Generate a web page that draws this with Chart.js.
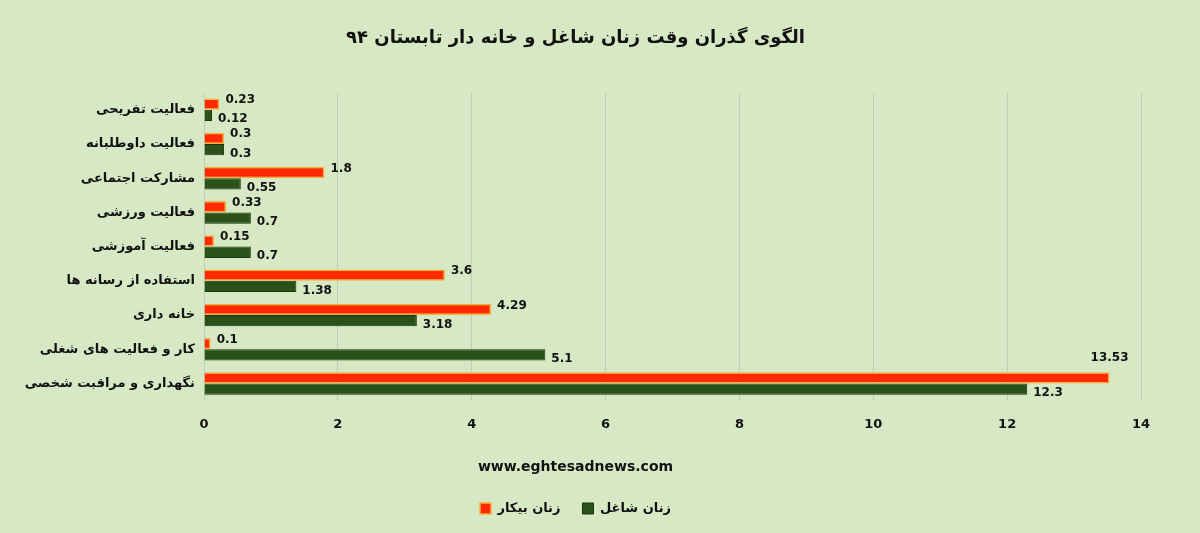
<!DOCTYPE html>
<html>
<head>
<meta charset="utf-8">
<script src="https://cdn.jsdelivr.net/npm/chart.js@4/dist/chart.umd.min.js"></script>
<style>
  html, body { margin: 0; padding: 0; background: #d6e8c4; }
  #wrap { width: 1200px; height: 533px; position: relative; }
</style>
</head>
<body>
<div id="wrap"><canvas id="grafico_zaman"></canvas></div>
<script>
// ----------------------- داده ها --------------------------------------------//

var categories = [
  'فعالیت تفریحی',
  'فعالیت داوطلبانه',
  'مشارکت اجتماعی',
  'فعالیت ورزشی',
  'فعالیت آموزشی',
  'استفاده از رسانه ها',
  'خانه داری',
  'کار و فعالیت های شغلی',
  'نگهداری و مراقبت شخصی'
];

var bikar = [0.23, 0.3, 1.8, 0.33, 0.15, 3.6, 4.29, 0.1, 13.53];   // زنان بیکار
var shaghel = [0.12, 0.3, 0.55, 0.7, 0.7, 1.38, 3.18, 5.1, 12.3];  // زنان شاغل
var xTicks = [0, 2, 4, 6, 8, 10, 12, 14];

var fonte = "'DejaVu Sans', sans-serif";

// ----------------------- برچسب مقادیر --------------------------------------------//

var rotulos = {
  id: 'rotulos',
  afterDatasetsDraw: function (chart) {
    var ctx = chart.ctx;
    ctx.save();
    ctx.font = 'bold 12px ' + fonte;
    ctx.fillStyle = '#111';
    ctx.textBaseline = 'middle';
    chart.data.datasets.forEach(function (ds, i) {
      var meta = chart.getDatasetMeta(i);
      meta.data.forEach(function (bar, j) {
        var txt = String(ds.data[j]);
        var w = ctx.measureText(txt).width;
        var dy = i === 0 ? -4 : 4;
        if (bar.x + 6 + w > chart.chartArea.right - 25) {
          // جا نیست: بالای انتهای میله
          ctx.textAlign = 'center';
          ctx.fillText(txt, bar.x, bar.y - 20);
        } else {
          ctx.textAlign = 'left';
          ctx.fillText(txt, bar.x + 6, bar.y + dy);
        }
      });
    });
    ctx.restore();
  }
};

// ----------------------- نمودار --------------------------------------------//

var data = {
  labels: categories,
  datasets: [
    {
      label: 'زنان بیکار',
      data: bikar,
      backgroundColor: '#ff2a00',
      borderColor: '#f4b13a',
      borderWidth: 1.5,
      borderSkipped: 'start',
      categoryPercentage: 0.66,
      barPercentage: 1
    },
    {
      label: 'زنان شاغل',
      data: shaghel,
      backgroundColor: '#2a5218',
      borderColor: '#1a340e',
      borderWidth: 1,
      borderSkipped: 'start',
      categoryPercentage: 0.66,
      barPercentage: 1
    }
  ]
};

var options = {
  indexAxis: 'y',
  responsive: true,
  maintainAspectRatio: false,
  animation: false,
  layout: { padding: { left: 10, right: 59, top: 0, bottom: 8 } },
  scales: {
    x: {
      min: 0,
      max: 14,
      afterBuildTicks: function (axis) {
        axis.ticks = xTicks.map(function (v) { return { value: v }; });
      },
      grid: { color: '#c3ccb8', drawTicks: false },
      border: { display: false },
      ticks: { padding: 16, color: '#111', font: { family: fonte, size: 13, weight: 'bold' } }
    },
    y: {
      afterFit: function (axis) { axis.width = 194; },
      grid: { display: false },
      border: { display: false },
      ticks: { padding: 1, color: '#111', font: { family: fonte, size: 13, weight: 'bold' } }
    }
  },
  plugins: {
    title: {
      display: true,
      text: 'الگوی گذران وقت زنان شاغل و خانه دار تابستان ۹۴',
      color: '#111',
      font: { family: fonte, size: 18, weight: 'bold' },
      padding: { top: 28, bottom: 43 }
    },
    subtitle: {
      display: true,
      position: 'bottom',
      weight: 500,
      text: 'www.eghtesadnews.com',
      color: '#111',
      font: { family: fonte, size: 14, weight: 'bold' },
      padding: { top: 11, bottom: 4 }
    },
    legend: {
      position: 'bottom',
      labels: {
        boxWidth: 11,
        boxHeight: 11,
        padding: 22,
        color: '#111',
        font: { family: fonte, size: 13, weight: 'bold' }
      }
    },
    tooltip: { enabled: false }
  }
};

var ctx = document.getElementById('grafico_zaman').getContext('2d');
var grafico_zaman = new Chart(ctx, {
  type: 'bar',
  data: data,
  options: options,
  plugins: [rotulos]
});
</script>
</body>
</html>
